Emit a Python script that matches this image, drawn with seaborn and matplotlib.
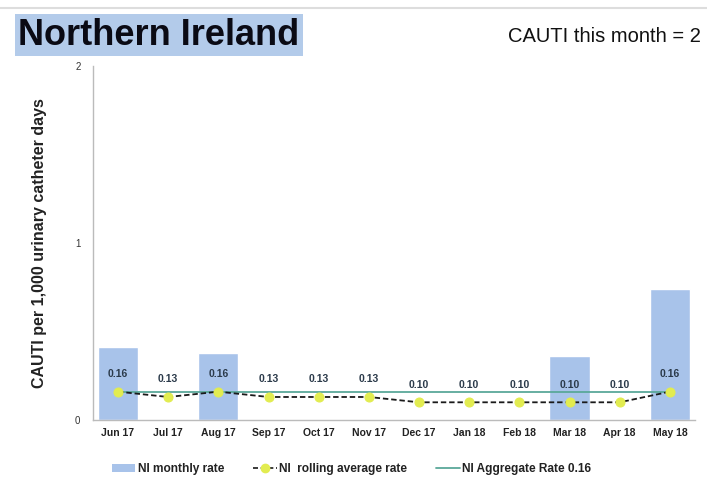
import numpy as np
import pandas as pd
import matplotlib
matplotlib.use("Agg")
import matplotlib.pyplot as plt
import seaborn as sns
from matplotlib.lines import Line2D
from matplotlib.patches import Patch

months = ["Jun 17", "Jul 17", "Aug 17", "Sep 17", "Oct 17", "Nov 17",
          "Dec 17", "Jan 18", "Feb 18", "Mar 18", "Apr 18", "May 18"]
monthly_rate = [0.41, 0.0, 0.38, 0.0, 0.0, 0.0, 0.0, 0.0, 0.0, 0.36, 0.0, 0.74]
rolling_rate = [0.16, 0.13, 0.16, 0.13, 0.13, 0.13, 0.10, 0.10, 0.10, 0.10, 0.10, 0.16]
aggregate_rate = 0.16
y_ticks = [0, 1, 2]

sns.set_theme(style="white")
plt.rcParams["font.family"] = ["Liberation Sans", "DejaVu Sans"]

bar_color = "#a8c3ea"
agg_color = "#5aa89a"
marker_color = "#e2ec50"

df = pd.DataFrame({"month": months, "monthly": monthly_rate,
                   "rolling": rolling_rate, "pos": np.arange(len(months))})

fig = plt.figure(figsize=(7.07, 4.95), dpi=100)
ax = fig.add_axes([0.1315, 0.1515, 0.8515, 0.7155])

sns.barplot(data=df, x="month", y="monthly", order=months, color=bar_color,
            saturation=1, width=0.8, ax=ax)

ax.plot([0, len(months) - 1], [aggregate_rate, aggregate_rate],
        color=agg_color, lw=1.3, zorder=3)
sns.lineplot(data=df, x="pos", y="rolling", ax=ax, color="#1a1a1a",
             linestyle=(0, (3, 1.6)), lw=1.3, marker="o", markersize=6.5,
             markerfacecolor=marker_color, markeredgecolor=marker_color,
             zorder=4)

for i, v in enumerate(rolling_rate):
    ax.annotate(f"{v:.2f}", (i, v), xytext=(0, 9), textcoords="offset points",
                ha="center", va="bottom", fontsize=7.5, fontweight="bold",
                color="#2b3a4a")

ax.set_xlim(-0.5, len(months) - 0.5)
ax.set_ylim(0, 2)
ax.set_yticks(y_ticks)
ax.set_yticklabels([str(t) for t in y_ticks], fontsize=7, color="#333333")
ax.set_xticks(range(len(months)))
ax.set_xticklabels(months, fontsize=7.5, fontweight="bold", color="#222222")
ax.set_xlabel("")
ax.set_ylabel("CAUTI per 1,000 urinary catheter days", fontsize=11.5,
              fontweight="bold", color="#222222", labelpad=20)
ax.tick_params(axis="y", length=3, color="#aaaaaa", pad=6)
ax.tick_params(axis="x", length=0, pad=6)
for side in ["top", "right"]:
    ax.spines[side].set_visible(False)
for side in ["left", "bottom"]:
    ax.spines[side].set_color("#bbbbbb")
    ax.spines[side].set_linewidth(1)

handles = [
    Patch(facecolor=bar_color, edgecolor="none"),
    Line2D([], [], color="#1a1a1a", linestyle=(0, (3, 1.6)), lw=1.2,
           marker="o", markersize=6, markerfacecolor=marker_color,
           markeredgecolor=marker_color),
    Line2D([], [], color=agg_color, lw=1.3),
]
labels = ["NI monthly rate", "NI  rolling average rate", "NI Aggregate Rate 0.16"]
leg = fig.legend(handles, labels, loc="center", bbox_to_anchor=(0.497, 0.052),
                 ncol=3, frameon=False, fontsize=8.6, handlelength=2.0,
                 handletextpad=0.2, columnspacing=2.4)
for t in leg.get_texts():
    t.set_fontweight("bold")
    t.set_color("#222222")

fig.add_artist(Line2D([0, 1], [0.984, 0.984], color="#dddddd", lw=1.5,
                      transform=fig.transFigure))
fig.text(0.026, 0.929, "Northern Ireland", fontsize=26, fontweight="bold",
         color="#0a0a14", va="center", ha="left",
         bbox=dict(boxstyle="square,pad=0.1", facecolor="#b3cbea",
                   edgecolor="none"))
fig.text(0.719, 0.927, "CAUTI this month = 2", fontsize=14.5,
         color="#111111", va="center", ha="left")

fig.savefig("out.png", dpi=100)
